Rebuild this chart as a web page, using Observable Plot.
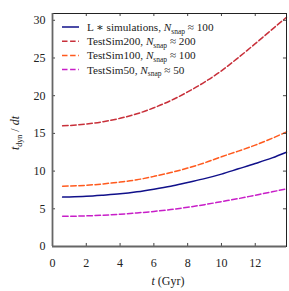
<!DOCTYPE html>
<html>
<head>
<meta charset="utf-8">
<script src="https://cdn.jsdelivr.net/npm/d3@7"></script>
<script src="https://cdn.jsdelivr.net/npm/@observablehq/plot@0.6"></script>
<style>
  html, body { margin: 0; padding: 0; background: #fff; }
  #chart svg { display: block; }
</style>
</head>
<body>
<div id="chart"></div>
<script>
const t = [0.6, 1, 2, 3, 4, 5, 6, 7, 8, 9, 10, 11, 12, 13, 13.85];
const lstar = [6.55, 6.57, 6.65, 6.8, 6.98, 7.25, 7.6, 8.0, 8.5, 9.0, 9.6, 10.3, 11.0, 11.75, 12.5];
const sim200 = [16.0, 16.05, 16.25, 16.55, 17.0, 17.6, 18.4, 19.35, 20.5, 21.8, 23.3, 25.05, 26.9, 28.8, 30.4];
const sim100 = [8.0, 8.02, 8.12, 8.3, 8.55, 8.85, 9.3, 9.8, 10.4, 11.1, 11.9, 12.65, 13.45, 14.35, 15.2];
const sim50 = [4.0, 4.01, 4.06, 4.15, 4.28, 4.45, 4.65, 4.9, 5.2, 5.55, 5.95, 6.35, 6.8, 7.25, 7.65];

const xTicks = [0, 2, 4, 6, 8, 10, 12];
const yTicks = [0, 5, 10, 15, 20, 25, 30];

const series = [
  {name: "L \u2217 simulations, ", n: "100", values: lstar, color: "#10108a", dash: null},
  {name: "TestSim200, ", n: "200", values: sim200, color: "#c8303a", dash: "5.5,2.6"},
  {name: "TestSim100, ", n: "100", values: sim100, color: "#ff5a1e", dash: "5.5,2.6"},
  {name: "TestSim50, ", n: "50", values: sim50, color: "#c81ec8", dash: "5.5,2.6"}
];

const xMax = 13.85, yMax = 30.9;
const font = "'Liberation Serif', 'DejaVu Serif', serif";

const lineMarks = series.map(s => Plot.line(t.map((x, i) => ({x, y: s.values[i]})), {
  x: "x", y: "y", stroke: s.color, strokeWidth: 1.5,
  strokeDasharray: s.dash, curve: "monotone-x"
}));

const plot = Plot.plot({
  width: 289, height: 291,
  marginLeft: 52, marginRight: 3, marginTop: 13, marginBottom: 45,
  style: {fontFamily: font, fontSize: "12px", background: "#fff"},
  x: {domain: [0, xMax], ticks: xTicks},
  y: {domain: [0, yMax], ticks: yTicks},
  marks: [
    Plot.axisX(xTicks, {tickSize: 0, tickPadding: 12, label: null, fontSize: 12, fill: "#222"}),
    Plot.axisY(yTicks, {tickSize: 0, tickPadding: 7, label: null, fontSize: 12, fill: "#222"}),
    ...lineMarks,
    Plot.ruleX(xTicks, {y1: 0, y2: 0.4, stroke: "#444"}),
    Plot.ruleX(xTicks, {y1: yMax - 0.4, y2: yMax, stroke: "#444"}),
    Plot.ruleY(yTicks, {x1: 0, x2: 0.18, stroke: "#444"}),
    Plot.ruleY(yTicks, {x1: xMax - 0.18, x2: xMax, stroke: "#444"}),
    Plot.frame({stroke: "#222", strokeWidth: 1}),
    Plot.ruleY([0], {stroke: "#666", strokeWidth: 1.8}),
    Plot.ruleX([0], {stroke: "#666", strokeWidth: 1.8})
  ]
});

const svg = d3.select(plot);
// legend
const lg = svg.append("g").attr("font-family", font).attr("font-size", 11.2).attr("fill", "#222")
  .attr("text-anchor", "start");
series.forEach((s, i) => {
  const yy = 27 + i * 14.2;
  lg.append("line").attr("x1", 62).attr("x2", 79).attr("y1", yy).attr("y2", yy)
    .attr("stroke", s.color).attr("stroke-width", 1.5).attr("stroke-dasharray", s.dash);
  const tx = lg.append("text").attr("x", 87).attr("y", yy + 4);
  tx.append("tspan").text(s.name);
  tx.append("tspan").attr("font-style", "italic").text("N");
  tx.append("tspan").attr("font-size", 7.5).attr("dy", 2.5).text("snap");
  tx.append("tspan").attr("dy", -2.5).text(" \u2248 " + s.n);
});
// y label
const yl = svg.append("text").attr("font-family", font).attr("font-size", 12).attr("fill", "#222")
  .attr("text-anchor", "middle").attr("transform", "translate(19,133) rotate(-90)");
yl.append("tspan").attr("font-style", "italic").text("t");
yl.append("tspan").attr("font-size", 8).attr("dy", 2.5).text("dyn");
yl.append("tspan").attr("dy", -2.5).text(" / ");
yl.append("tspan").attr("font-style", "italic").text("dt");
// x label
const xl = svg.append("text").attr("font-family", font).attr("font-size", 12).attr("fill", "#222")
  .attr("text-anchor", "middle").attr("x", 168).attr("y", 285);
xl.append("tspan").attr("font-style", "italic").text("t");
xl.append("tspan").text(" (Gyr)");

document.getElementById("chart").appendChild(plot);
</script>
</body>
</html>
